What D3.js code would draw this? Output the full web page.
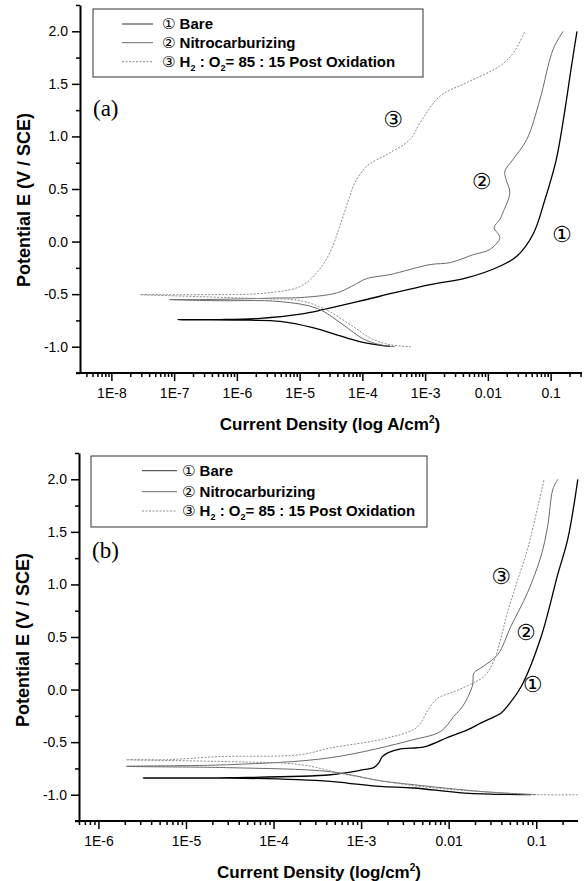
<!DOCTYPE html>
<html>
<head>
<meta charset="utf-8">
<script src="https://cdn.jsdelivr.net/npm/d3@7"></script>
<style>
body { margin: 0; background: #fff; }
svg { display: block; font-family: "Liberation Sans", Arial, "Noto Sans CJK JP", sans-serif; }
</style>
</head>
<body>
<div id="chart"></div>
<script>
// Values are [log10 current density (A/cm2), potential E (V / SCE)], in sweep order
// (cathodic branch from -1.0 V up to Ecorr, then anodic branch)

// panel (a)
const bareA = [
  [-3.56, -0.997], [-3.93, -0.965], [-4.25, -0.917], [-4.79, -0.819], [-5.31, -0.759],
  [-5.79, -0.748], [-6.59, -0.744], [-6.94, -0.743],
  [-6.27, -0.742], [-5.63, -0.730], [-4.99, -0.690], [-4.63, -0.648], [-3.72, -0.520],
  [-2.92, -0.410], [-2.34, -0.346], [-1.81, -0.235], [-1.54, -0.140], [-1.28, 0.07],
  [-1.09, 0.40], [-0.91, 0.78], [-0.77, 1.26], [-0.675, 1.64], [-0.58, 2.0]
];
const nitroA = [
  [-3.48, -1.0], [-3.72, -0.981], [-3.99, -0.924], [-4.31, -0.79], [-4.71, -0.638],
  [-5.31, -0.571], [-6.38, -0.562], [-7.07, -0.552],
  [-6.59, -0.552], [-5.79, -0.543], [-5.31, -0.536], [-4.99, -0.533], [-4.41, -0.489],
  [-4.17, -0.425], [-3.93, -0.352], [-3.56, -0.314], [-2.92, -0.219], [-2.60, -0.20],
  [-2.23, -0.124], [-1.97, -0.076], [-1.81, 0.038], [-1.90, 0.133], [-1.81, 0.21],
  [-1.76, 0.276], [-1.65, 0.467], [-1.71, 0.59], [-1.73, 0.667], [-1.60, 0.781],
  [-1.38, 0.971], [-1.17, 1.352], [-0.96, 1.829], [-0.80, 2.0]
];
const postA = [
  [-3.225, -1.0], [-3.56, -0.981], [-3.85, -0.924], [-4.17, -0.80], [-4.58, -0.648],
  [-4.99, -0.562], [-5.63, -0.543], [-6.59, -0.524], [-7.54, -0.505],
  [-7.19, -0.505], [-6.59, -0.505], [-5.52, -0.489], [-4.99, -0.426], [-4.73, -0.298],
  [-4.52, -0.108], [-4.36, 0.146], [-4.20, 0.431], [-4.12, 0.559], [-3.93, 0.717],
  [-3.56, 0.845], [-3.24, 0.971], [-3.08, 1.13], [-2.76, 1.384], [-2.34, 1.511],
  [-1.81, 1.670], [-1.59, 1.797], [-1.41, 2.0]
];

// panel (b)
const bareB = [
  [-1.06, -1.0], [-1.82, -0.984], [-2.40, -0.936], [-2.78, -0.921], [-3.16, -0.889],
  [-3.35, -0.873], [-4.50, -0.841], [-5.49, -0.841],
  [-4.50, -0.838], [-3.35, -0.81], [-2.97, -0.762], [-2.855, -0.743], [-2.80, -0.70],
  [-2.76, -0.64], [-2.69, -0.60], [-2.55, -0.565], [-2.28, -0.545], [-2.01, -0.455],
  [-1.78, -0.381], [-1.63, -0.317], [-1.40, -0.222], [-1.33, -0.159], [-1.17, 0.031],
  [-0.945, 0.50], [-0.754, 1.095], [-0.64, 1.43], [-0.525, 2.0]
];
const nitroB = [
  [-1.0, -1.0], [-1.63, -0.969], [-2.40, -0.905], [-2.78, -0.867], [-3.35, -0.781],
  [-4.50, -0.743], [-5.68, -0.730],
  [-4.50, -0.714], [-3.35, -0.648], [-2.40, -0.476], [-2.09, -0.397], [-1.94, -0.254],
  [-1.84, -0.159], [-1.73, 0.031], [-1.71, 0.159], [-1.63, 0.207], [-1.44, 0.333],
  [-1.29, 0.60], [-1.10, 0.921], [-0.945, 1.27], [-0.87, 1.55], [-0.81, 1.905], [-0.754, 2.0]
];
const postB = [
  [-0.525, -1.0], [-0.945, -1.0], [-1.63, -0.971], [-2.40, -0.914], [-3.16, -0.81],
  [-3.69, -0.714], [-4.50, -0.686], [-5.68, -0.667],
  [-5.22, -0.667], [-4.64, -0.638], [-3.69, -0.619], [-3.35, -0.555], [-2.78, -0.476],
  [-2.40, -0.381], [-2.32, -0.317], [-2.24, -0.20], [-2.13, -0.085], [-1.94, -0.02],
  [-1.75, 0.05], [-1.59, 0.13], [-1.48, 0.28], [-1.40, 0.50], [-1.33, 0.73],
  [-1.21, 1.048], [-1.10, 1.333], [-0.98, 1.746], [-0.91, 2.0]
];

// circled curve tags placed on the plot: [tag, log10 current, potential]
const tagsA = [["\u2462", -3.51, 1.16], ["\u2461", -2.10, 0.574], ["\u2460", -0.82, 0.067]];
const tagsB = [["\u2462", -1.40, 1.08], ["\u2461", -1.117, 0.54], ["\u2460", -1.04, 0.048]];

// axes
const yTicks = [-1.0, -0.5, 0.0, 0.5, 1.0, 1.5, 2.0];
const yMinorTicks = [-1.25, -0.75, -0.25, 0.25, 0.75, 1.25, 1.75, 2.25];
const xTicksA = [1e-8, 1e-7, 1e-6, 1e-5, 1e-4, 1e-3, 0.01, 0.1];
const xLabelsA = ["1E-8", "1E-7", "1E-6", "1E-5", "1E-4", "1E-3", "0.01", "0.1"];
const xTicksB = [1e-6, 1e-5, 1e-4, 1e-3, 0.01, 0.1];
const xLabelsB = ["1E-6", "1E-5", "1E-4", "1E-3", "0.01", "0.1"];

const legendNames = ["Bare", "Nitrocarburizing", "Post Oxidation"];
const legendTags = ["\u2460", "\u2461", "\u2462"];

// line styles for the three samples
const styles = [
  {stroke: "#000", width: 1.3, dash: null},
  {stroke: "#6a6a6a", width: 1, dash: null},
  {stroke: "#8c8c8c", width: 1, dash: "2,1.5"}
];

const svg = d3.select("#chart")
  .append("svg")
  .attr("width", 588)
  .attr("height", 881);

function drawPanel(p) {
  const g = svg.append("g").attr("transform", `translate(${p.left},${p.top})`);

  const x = d3.scaleLog().domain(p.xDomain).range([0, p.width]);
  const y = d3.scaleLinear().domain([-1.25, 2.25]).range([p.height, 0]);

  // minor log ticks 2..9 in each decade
  const minor = [];
  for (let e = Math.floor(Math.log10(p.xDomain[0])); e <= 0; e++) {
    for (let m = 2; m <= 9; m++) {
      const v = m * Math.pow(10, e);
      if (v >= p.xDomain[0] && v <= p.xDomain[1]) minor.push(v);
    }
  }

  // curves
  const line = d3.line()
    .x(d => x(Math.pow(10, d[0])))
    .y(d => y(d[1]))
    .curve(d3.curveCatmullRom.alpha(0.5));

  p.series.forEach((s, i) => {
    g.append("path")
      .datum(s)
      .attr("fill", "none")
      .attr("stroke", styles[i].stroke)
      .attr("stroke-width", styles[i].width)
      .attr("stroke-dasharray", styles[i].dash)
      .attr("d", line);
  });

  // x axis
  g.append("g")
    .attr("transform", `translate(0,${p.height})`)
    .call(d3.axisBottom(x).tickValues(minor).tickSize(4).tickSizeOuter(0).tickFormat(""))
    .call(a => a.select(".domain").remove())
    .selectAll("line").attr("stroke-width", 1.5);
  const xa = g.append("g")
    .attr("transform", `translate(0,${p.height})`)
    .call(d3.axisBottom(x).tickValues(p.xTicks).tickSize(8).tickSizeOuter(0).tickPadding(7)
      .tickFormat((d, i) => p.xLabels[i]));
  xa.select(".domain").attr("stroke-width", 2).attr("d", `M-4,0H${p.width}`);
  xa.selectAll("line").attr("stroke-width", 1.5);
  xa.selectAll("text").attr("font-size", 14).attr("fill", "#000")
    .attr("font-family", "Liberation Sans, Arial, sans-serif");

  // y axis
  g.append("g")
    .call(d3.axisLeft(y).tickValues(yMinorTicks).tickSize(4).tickSizeOuter(0).tickFormat(""))
    .call(a => a.select(".domain").remove())
    .selectAll("line").attr("stroke-width", 1.5);
  const ya = g.append("g")
    .call(d3.axisLeft(y).tickValues(yTicks).tickSize(8).tickSizeOuter(0).tickPadding(4)
      .tickFormat(d => d.toFixed(1)));
  ya.select(".domain").attr("stroke-width", 2);
  ya.selectAll("line").attr("stroke-width", 1.5);
  ya.selectAll("text").attr("font-size", 14).attr("fill", "#000")
    .attr("font-family", "Liberation Sans, Arial, sans-serif");

  // axis titles
  const xt = g.append("text")
    .attr("x", p.titleX)
    .attr("y", p.height + 57)
    .attr("text-anchor", "middle")
    .attr("font-weight", "bold")
    .attr("font-size", 17)
    .text(p.xTitle);
  xt.append("tspan").attr("font-size", 10).attr("dy", -7).text("2");
  xt.append("tspan").attr("dy", 7).text(")");

  g.append("text")
    .attr("transform", "rotate(-90)")
    .attr("x", -p.yTitleY)
    .attr("y", -50)
    .attr("text-anchor", "middle")
    .attr("font-weight", "bold")
    .attr("font-size", 18)
    .text("Potential E (V / SCE)");

  // panel letter
  g.append("text")
    .attr("x", 13)
    .attr("y", p.letterY)
    .attr("font-family", "Liberation Serif, Times New Roman, serif")
    .attr("font-size", 23)
    .text(p.letter);

  // circled tags on the curves
  p.tags.forEach(t => {
    g.append("text")
      .attr("x", x(Math.pow(10, t[1])))
      .attr("y", y(t[2]))
      .attr("dy", "0.35em")
      .attr("text-anchor", "middle")
      .attr("font-size", 22)
      .attr("font-family", "DejaVu Sans, Noto Sans CJK JP, sans-serif")
      .text(t[0]);
  });

  // legend (coordinates relative to the legend box)
  const L = p.legend;
  const lg = g.append("g").attr("transform", `translate(${L.x},${L.y})`);
  lg.append("rect")
    .attr("width", L.w).attr("height", L.h)
    .attr("fill", "#fff").attr("stroke", "#333").attr("stroke-width", 1);
  legendNames.forEach((name, i) => {
    const ry = L.rows[i];
    lg.append("line")
      .attr("x1", L.lineX0).attr("x2", L.lineX1)
      .attr("y1", ry).attr("y2", ry)
      .attr("stroke", styles[i].stroke)
      .attr("stroke-width", i === 0 ? 1 : styles[i].width)
      .attr("stroke-dasharray", styles[i].dash)
      .attr("opacity", i === 0 ? 0.8 : 1);
    const t = lg.append("text")
      .attr("x", L.textX)
      .attr("y", ry + 5)
      .attr("font-weight", "bold")
      .attr("font-size", 15);
    t.append("tspan").attr("font-weight", "normal")
      .attr("font-family", "DejaVu Sans, Noto Sans CJK JP, sans-serif")
      .text(legendTags[i]);
    if (i < 2) {
      t.append("tspan").text(" " + name);
    } else {
      t.append("tspan").text(" H");
      t.append("tspan").attr("font-size", 9).attr("dy", 4).text("2");
      t.append("tspan").attr("dy", -4).text(" : O");
      t.append("tspan").attr("font-size", 9).attr("dy", 4).text("2");
      t.append("tspan").attr("dy", -4).text("= 85 : 15 " + name);
    }
  });
}

drawPanel({
  left: 80, top: 5, width: 502, height: 368,
  xDomain: [Math.pow(10, -8.5), Math.pow(10, -0.5)],
  xTicks: xTicksA, xLabels: xLabelsA,
  xTitle: "Current Density (log A/cm", titleX: 250, yTitleY: 195,
  letter: "(a)", letterY: 111,
  series: [bareA, nitroA, postA],
  tags: tagsA,
  legend: {x: 13, y: 4, w: 330, h: 68, rows: [15, 33.7, 52.7], lineX0: 29, lineX1: 60, textX: 69}
});

drawPanel({
  left: 79, top: 453, width: 499, height: 368,
  xDomain: [6e-7, 0.3],
  xTicks: xTicksB, xLabels: xLabelsB,
  xTitle: "Current Density (log/cm", titleX: 240, yTitleY: 187,
  letter: "(b)", letterY: 105,
  series: [bareB, nitroB, postB],
  tags: tagsB,
  legend: {x: 12, y: 3, w: 336, h: 71, rows: [14.7, 35.7, 55], lineX0: 51, lineX1: 86, textX: 91}
});
</script>
</body>
</html>
